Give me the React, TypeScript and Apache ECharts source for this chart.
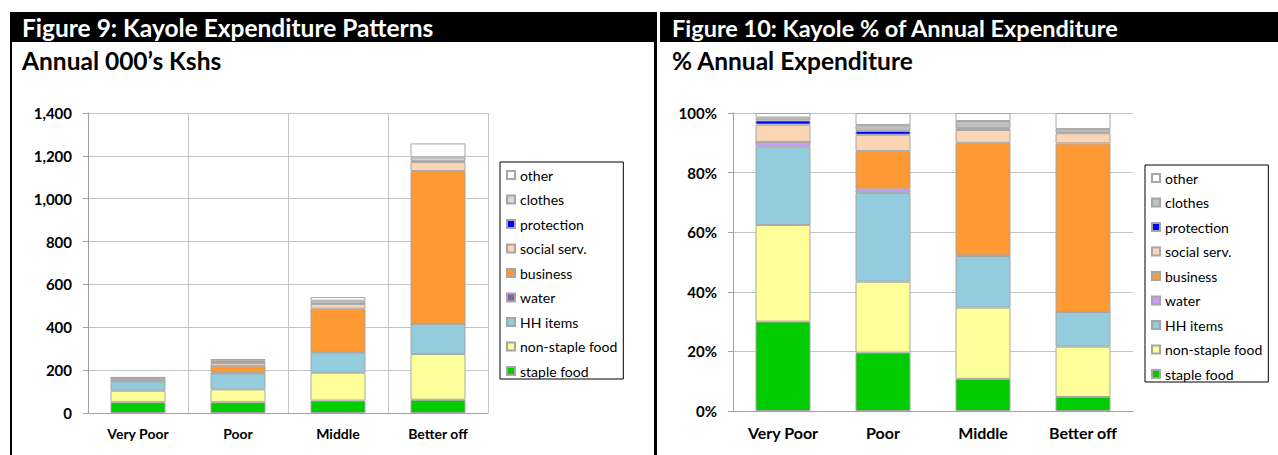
import React, { useEffect, useRef } from "react";
import * as echarts from "echarts";

// ---------- data ----------
const categories = ["Very Poor", "Poor", "Middle", "Better off"];
const seriesNames = [
  "staple food",
  "non-staple food",
  "HH items",
  "water",
  "business",
  "social serv.",
  "protection",
  "clothes",
  "other",
];

// Figure 9: annual expenditure, 000's Kshs
const stapleKshs = [50, 50, 58, 62];
const nonStapleKshs = [54, 60, 130, 213];
const hhItemsKshs = [44, 75, 94, 141];
const waterKshs = [3, 3, 2, 0];
const businessKshs = [0, 32, 203, 713];
const socialKshs = [9, 14, 22, 42];
const protectionKshs = [2, 3, 3, 6];
const clothesKshs = [3, 5, 12, 16];
const otherKshs = [2, 10, 17, 65];
const kshsTicks = [0, 200, 400, 600, 800, 1000, 1200, 1400];

// Figure 10: % of annual expenditure
const staplePct = [30, 19.6, 10.8, 4.7];
const nonStaplePct = [32.4, 23.8, 23.9, 16.9];
const hhItemsPct = [26.3, 29.8, 17.3, 11.6];
const waterPct = [1.6, 1.2, 0.2, 0];
const businessPct = [0, 12.8, 37.8, 56.6];
const socialPct = [5.8, 5.5, 4.3, 3.4];
const protectionPct = [1.4, 1.3, 0.6, 0.3];
const clothesPct = [1.0, 2.0, 2.4, 1.1];
const otherPct = [1.5, 4.0, 2.7, 5.4];
const pctTicks = [0, 20, 40, 60, 80, 100];

// ---------- styles ----------
const FONT = "Lato";
const leftColors = ["#00CC00", "#FFFF99", "#93CDDD", "#8064A2", "#FF9933", "#FCD5B5", "#0000FF", "#D9D9D9", "#FFFFFF"];
const rightColors = ["#00CC00", "#FFFF99", "#93CDDD", "#CC99FF", "#FF9933", "#FCD5B5", "#0000FF", "#C0C0C0", "#FFFFFF"];

function buildSeries(values: number[][], colors: string[]) {
  return seriesNames.map((name, i) => ({
    name,
    type: "bar",
    stack: "total",
    barWidth: "55%",
    data: values[i],
    itemStyle: { color: colors[i], borderColor: "#A6A6A6", borderWidth: 1 },
    emphasis: { disabled: true },
  }));
}

function header(x0: number, w: number, title: string, subtitle: string, tx: number, size: number) {
  return [
    { type: "rect", shape: { x: x0, y: 12, width: w, height: 30 }, style: { fill: "#000" } },
    {
      type: "text",
      style: { text: title, x: tx, y: 27.5, fill: "#fff", fontSize: size, fontWeight: "bold", fontFamily: FONT, verticalAlign: "middle" },
    },
    {
      type: "text",
      style: { text: subtitle, x: tx, y: 60, fill: "#000", fontSize: 24.5, fontWeight: "bold", fontFamily: FONT, verticalAlign: "middle" },
    },
  ];
}

function legendOpt(left: number, top: number) {
  return {
    orient: "vertical",
    left,
    top,
    data: [...seriesNames].reverse(),
    itemWidth: 8,
    itemHeight: 8,
    itemGap: 8.5,
    icon: "rect",
    borderColor: "#000",
    borderWidth: 1,
    padding: [5, 6, 0, 6],
    selectedMode: false,
    textStyle: { fontSize: 14, fontFamily: FONT, color: "#000", lineHeight: 16 },
  };
}

const axisGray = "#A0A0A0";
const gridGray = "#C4C4C4";

const leftOption = {
  animation: false,
  graphic: [
    ...header(10, 647, "Figure 9: Kayole Expenditure Patterns", "Annual 000\u2019s Kshs", 22, 24.5),
    { type: "line", shape: { x1: 11, y1: 42, x2: 11, y2: 455 }, style: { stroke: "#000", lineWidth: 2 } },
    { type: "line", shape: { x1: 655.5, y1: 42, x2: 655.5, y2: 455 }, style: { stroke: "#000", lineWidth: 3 } },
  ],
  grid: { left: 88, top: 113, width: 400, height: 300 },
  legend: legendOpt(500, 162),
  xAxis: {
    type: "category",
    data: categories,
    axisLine: { lineStyle: { color: axisGray } },
    axisTick: { length: 5, lineStyle: { color: axisGray } },
    splitLine: { show: true, lineStyle: { color: gridGray } },
    axisLabel: { fontSize: 14, fontWeight: "bold", color: "#000", fontFamily: FONT, margin: 13 },
  },
  yAxis: {
    type: "value",
    min: kshsTicks[0],
    max: kshsTicks[kshsTicks.length - 1],
    interval: kshsTicks[1] - kshsTicks[0],
    axisLine: { show: true, lineStyle: { color: axisGray } },
    axisTick: { show: true, length: 5, lineStyle: { color: axisGray } },
    splitLine: { lineStyle: { color: gridGray } },
    axisLabel: {
      fontSize: 15,
      fontWeight: "bold",
      color: "#000",
      fontFamily: FONT,
      margin: 16,
      formatter: (v: number) => v.toLocaleString("en-US"),
    },
  },
  series: buildSeries(
    [stapleKshs, nonStapleKshs, hhItemsKshs, waterKshs, businessKshs, socialKshs, protectionKshs, clothesKshs, otherKshs],
    leftColors
  ),
};

const rightOption = {
  animation: false,
  graphic: [...header(1, 619, "Figure 10: Kayole % of Annual Expenditure", "% Annual Expenditure", 13, 23.5)],
  grid: { left: 74, top: 113, width: 400, height: 298 },
  legend: legendOpt(486, 165),
  xAxis: {
    type: "category",
    data: categories,
    axisLine: { lineStyle: { color: axisGray } },
    axisTick: { length: 5, lineStyle: { color: axisGray } },
    splitLine: { show: false },
    axisLabel: { fontSize: 16, fontWeight: "bold", color: "#000", fontFamily: FONT, margin: 13 },
  },
  yAxis: {
    type: "value",
    min: pctTicks[0],
    max: pctTicks[pctTicks.length - 1],
    interval: pctTicks[1] - pctTicks[0],
    axisLine: { show: true, lineStyle: { color: axisGray } },
    axisTick: { show: true, length: 5, lineStyle: { color: axisGray } },
    splitLine: { lineStyle: { color: gridGray } },
    axisLabel: {
      fontSize: 15,
      fontWeight: "bold",
      color: "#000",
      fontFamily: FONT,
      margin: 16,
      formatter: (v: number) => v + "%",
    },
  },
  series: buildSeries(
    [staplePct, nonStaplePct, hhItemsPct, waterPct, businessPct, socialPct, protectionPct, clothesPct, otherPct],
    rightColors
  ),
};

function Chart({ option, style }: { option: any; style: React.CSSProperties }) {
  const ref = useRef<HTMLDivElement>(null);
  useEffect(() => {
    const chart = echarts.init(ref.current as HTMLDivElement, null, { renderer: "svg" });
    chart.setOption(option);
    return () => chart.dispose();
  }, [option]);
  return <div ref={ref} style={style} />;
}

export default function App() {
  return (
    <div style={{ position: "fixed", left: 0, top: 0, width: 1278, height: 455, background: "#fff" }}>
      <Chart option={leftOption} style={{ position: "absolute", left: 0, top: 0, width: 659, height: 455 }} />
      <Chart option={rightOption} style={{ position: "absolute", left: 659, top: 0, width: 619, height: 455 }} />
    </div>
  );
}
